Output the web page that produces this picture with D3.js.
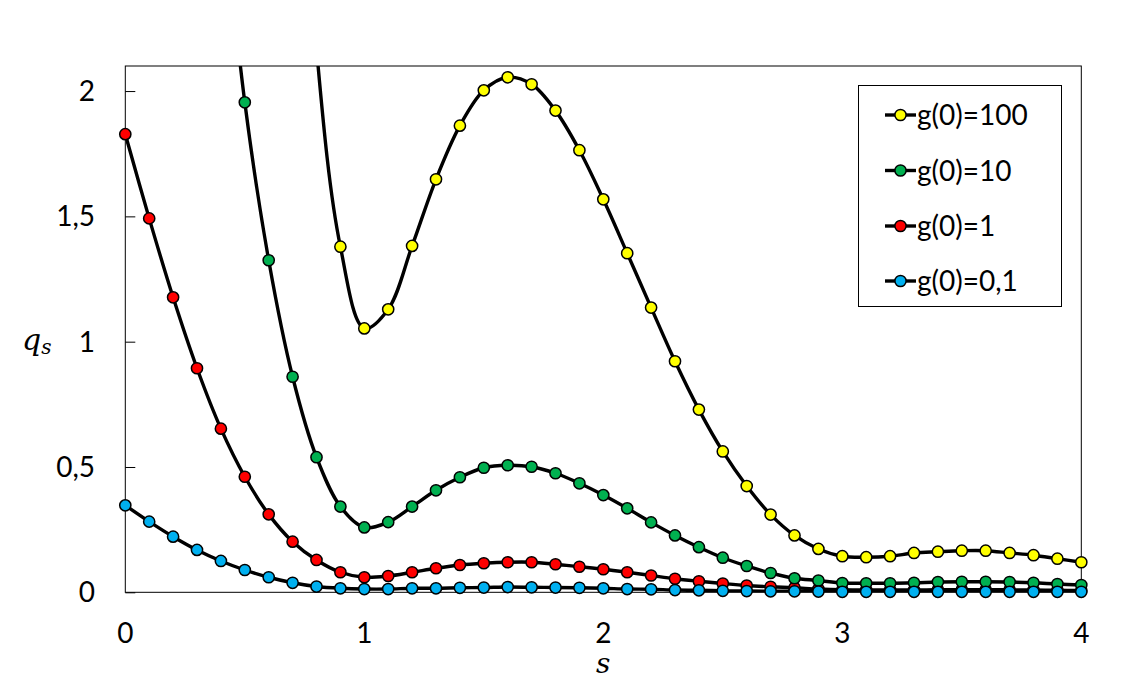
<!DOCTYPE html>
<html>
<head>
<meta charset="utf-8">
<script src="https://cdn.jsdelivr.net/npm/d3@7"></script>
<style>
  body { margin: 0; background: #fff; }
  text { font-family: Lato, "Open Sans", sans-serif; fill: #000; }
  .axisLabel { font-family: "DejaVu Serif", serif; font-style: italic; }
</style>
</head>
<body>
<div id="chart"></div>
<script>
// Data (s from 0 to 4, step 0.1)
var sValues = [0, 0.1, 0.2, 0.3, 0.4, 0.5, 0.6, 0.7, 0.8, 0.9,
  1, 1.1, 1.2, 1.3, 1.4, 1.5, 1.6, 1.7, 1.8, 1.9,
  2, 2.1, 2.2, 2.3, 2.4, 2.5, 2.6, 2.7, 2.8, 2.9,
  3, 3.1, 3.2, 3.3, 3.4, 3.5, 3.6, 3.7, 3.8, 3.9, 4];

// g(0)=100 starts at s=0.7 (first points are above the axis max)
var g100 = [null, null, null, null, null, null, null, 3.8, 2.17, 1.379,
  1.053, 1.129, 1.382, 1.648, 1.862, 2.003, 2.055, 2.027, 1.922, 1.764,
  1.568, 1.353, 1.136, 0.922, 0.729, 0.562, 0.424, 0.310, 0.227, 0.173,
  0.144, 0.140, 0.144, 0.157, 0.162, 0.166, 0.166, 0.157, 0.148, 0.134, 0.120];

var g10 = [null, null, null, null, 2.85, 1.955, 1.325, 0.860, 0.539, 0.342,
  0.259, 0.280, 0.342, 0.407, 0.459, 0.497, 0.507, 0.501, 0.475, 0.435,
  0.388, 0.335, 0.279, 0.227, 0.180, 0.138, 0.105, 0.077, 0.056, 0.047,
  0.037, 0.036, 0.036, 0.038, 0.041, 0.042, 0.042, 0.041, 0.038, 0.033, 0.029];

var g1 = [1.828, 1.492, 1.177, 0.894, 0.653, 0.461, 0.311, 0.202, 0.129, 0.080,
  0.060, 0.065, 0.080, 0.096, 0.109, 0.116, 0.120, 0.120, 0.112, 0.102,
  0.092, 0.080, 0.067, 0.054, 0.044, 0.035, 0.027, 0.022, 0.018, 0.013,
  0.010, 0.009, 0.009, 0.009, 0.010, 0.010, 0.010, 0.010, 0.009, 0.008, 0.007];

var g01 = [0.347, 0.282, 0.222, 0.169, 0.125, 0.089, 0.060, 0.038, 0.023, 0.016,
  0.013, 0.013, 0.016, 0.016, 0.018, 0.019, 0.021, 0.020, 0.019, 0.018,
  0.016, 0.013, 0.012, 0.009, 0.008, 0.006, 0.005, 0.004, 0.004, 0.003,
  0.002, 0.002, 0.002, 0.002, 0.002, 0.002, 0.002, 0.002, 0.002, 0.002, 0.002];

var yTicks = [0, 0.5, 1, 1.5, 2];
var yTickLabels = ["0", "0,5", "1", "1,5", "2"];
var xTicks = [0, 1, 2, 3, 4];

// Series in legend order, draw order kept separately
var seriesNames = ["g(0)=100", "g(0)=10", "g(0)=1", "g(0)=0,1"];
var seriesValues = [g100, g10, g1, g01];
var seriesColors = ["#ffff00", "#00b050", "#ff0000", "#00b0f0"];
var drawOrder = [2, 1, 0, 3];

// SVG attributes
var width = 1134;
var height = 682;
var plotLeft = 125.3;
var plotRight = 1081.3;
var plotTop = 66;
var plotBottom = 592.3;
var markerR = 5.6;
var lineW = 3.4;

var svg = d3.select("#chart")
    .append("svg")
    .attr("width", width)
    .attr("height", height);

var xScale = d3.scaleLinear()
    .domain([0, 4])
    .range([plotLeft, plotRight]);

var yScale = d3.scaleLinear()
    .domain([0, 2.1])
    .range([plotBottom, plotTop]);

// Clip lines to the plot area
svg.append("clipPath")
    .attr("id", "plotClip")
    .append("rect")
    .attr("x", plotLeft)
    .attr("y", plotTop)
    .attr("width", plotRight - plotLeft)
    .attr("height", plotBottom - plotTop);

// Plot frame
svg.append("rect")
    .attr("x", plotLeft)
    .attr("y", plotTop)
    .attr("width", plotRight - plotLeft)
    .attr("height", plotBottom - plotTop)
    .attr("fill", "none")
    .attr("stroke", "#000")
    .attr("stroke-width", 1);

// y axis: inward ticks, comma decimal labels
var yAxis = d3.axisRight(yScale)
    .tickValues(yTicks)
    .tickSize(10)
    .tickFormat("");

svg.append("g")
    .attr("class", "yAxis")
    .attr("transform", `translate(${plotLeft}, 0)`)
    .call(yAxis)
    .call(function(g) { g.select(".domain").remove(); })
    .selectAll("line")
    .attr("stroke", "#000");

svg.append("g")
    .selectAll("text")
    .data(yTicks)
    .enter()
    .append("text")
    .attr("x", 95)
    .attr("y", function(d) { return yScale(d); })
    .attr("dy", "0.36em")
    .attr("text-anchor", "end")
    .attr("font-size", 28)
    .text(function(d, i) { return yTickLabels[i]; });

// x axis labels
svg.append("g")
    .selectAll("text")
    .data(xTicks)
    .enter()
    .append("text")
    .attr("x", function(d) { return xScale(d); })
    .attr("y", 643)
    .attr("text-anchor", "middle")
    .attr("font-size", 28)
    .text(function(d) { return d; });

// Axis titles
svg.append("text")
    .attr("class", "axisLabel")
    .attr("x", xScale(2))
    .attr("y", 673)
    .attr("text-anchor", "middle")
    .attr("font-size", 28)
    .text("s");

var qLabel = svg.append("text")
    .attr("class", "axisLabel")
    .attr("x", 22)
    .attr("y", 350)
    .attr("font-size", 30);
qLabel.append("tspan").text("q");
qLabel.append("tspan")
    .attr("font-size", 20)
    .attr("dy", 4)
    .text("s");

// Lines and markers
var line = d3.line()
    .defined(function(d) { return d.v !== null; })
    .x(function(d) { return xScale(d.s); })
    .y(function(d) { return yScale(d.v); })
    .curve(d3.curveCatmullRom.alpha(0.5));

drawOrder.forEach(function(k) {
    var pts = sValues.map(function(s, i) {
        return { s: s, v: seriesValues[k][i] };
    });

    svg.append("path")
        .datum(pts.filter(function(d) { return d.v !== null; }))
        .attr("clip-path", "url(#plotClip)")
        .attr("fill", "none")
        .attr("stroke", "#000")
        .attr("stroke-width", lineW)
        .attr("d", line);

    svg.append("g")
        .selectAll("circle")
        .data(pts.filter(function(d) { return d.v !== null && d.v <= 2.1; }))
        .enter()
        .append("circle")
        .attr("cx", function(d) { return xScale(d.s); })
        .attr("cy", function(d) { return yScale(d.v); })
        .attr("r", markerR)
        .attr("fill", seriesColors[k])
        .attr("stroke", "#000")
        .attr("stroke-width", 1.5);
});

// Legend
var legend = svg.append("g").attr("class", "legend");

legend.append("rect")
    .attr("x", 858.5)
    .attr("y", 85.5)
    .attr("width", 203)
    .attr("height", 221)
    .attr("fill", "#fff")
    .attr("stroke", "#000")
    .attr("stroke-width", 1);

var legendY = [115, 170.5, 226, 281];

seriesNames.forEach(function(name, i) {
    var y = legendY[i];
    legend.append("line")
        .attr("x1", 885)
        .attr("x2", 916)
        .attr("y1", y)
        .attr("y2", y)
        .attr("stroke", "#000")
        .attr("stroke-width", lineW);
    legend.append("circle")
        .attr("cx", 900.5)
        .attr("cy", y)
        .attr("r", markerR)
        .attr("fill", seriesColors[i])
        .attr("stroke", "#000")
        .attr("stroke-width", 1.5);
    legend.append("text")
        .attr("x", 917)
        .attr("y", y)
        .attr("dy", "0.36em")
        .attr("font-size", 28)
        .text(name);
});
</script>
</body>
</html>
